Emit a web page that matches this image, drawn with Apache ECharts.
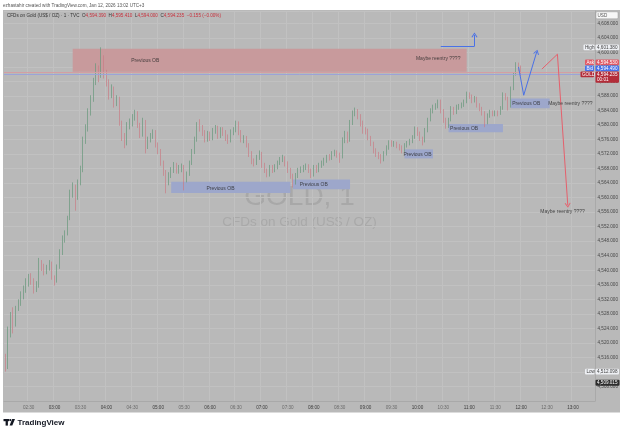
<!DOCTYPE html>
<html>
<head>
<meta charset="utf-8">
<script src="https://cdn.jsdelivr.net/npm/echarts@6/dist/echarts.min.js"></script>
<style>
  html, body { margin: 0; padding: 0; background: #fff; }
  #chart { width: 625px; height: 434px; }
</style>
</head>
<body>
<div id="chart"></div>
<script>
// 3-minute bars from 02:03, each row is [open, close, low, high]
const bars = [
  [4516.5,4513.0,4512.1,4517.0],[4513.0,4523.5,4512.8,4524.5],[4523.5,4527.5,4521.5,4528.5],[4527.5,4525.0,4522.6,4529.8],[4525.0,4529.5,4524.5,4530.2],
  [4529.5,4531.0,4528.8,4532.0],[4531.0,4533.5,4530.2,4534.2],[4533.5,4534.5,4532.0,4535.8],[4534.5,4536.8,4533.8,4537.8],[4536.8,4538.2,4535.5,4539.0],
  [4538.2,4537.0,4536.0,4539.2],[4537.0,4534.6,4533.6,4537.8],[4534.6,4535.8,4534.0,4537.0],[4535.8,4542.0,4535.2,4543.4],[4542.0,4541.0,4539.8,4542.8],
  [4541.0,4539.4,4538.6,4541.8],[4539.4,4540.6,4538.9,4541.5],[4540.6,4542.0,4539.9,4542.8],[4542.0,4538.0,4537.4,4542.4],[4538.0,4537.0,4535.8,4538.6],
  [4537.0,4541.0,4536.6,4541.6],[4541.0,4545.0,4540.4,4545.8],[4545.0,4549.0,4544.2,4549.6],[4549.0,4550.2,4547.6,4551.0],[4550.2,4554.2,4549.6,4555.0],
  [4554.2,4561.0,4553.8,4562.2],[4561.0,4563.0,4560.0,4564.2],[4563.0,4560.0,4556.4,4563.6],[4560.0,4564.2,4559.4,4565.0],[4564.2,4567.6,4563.4,4568.8],
  [4567.6,4576.0,4567.0,4576.8],[4576.0,4579.0,4574.8,4580.2],[4579.0,4583.6,4578.2,4584.6],[4583.6,4587.2,4582.6,4588.2],[4587.2,4592.0,4586.4,4593.0],
  [4592.0,4595.2,4591.0,4597.0],[4595.2,4593.8,4591.8,4596.4],[4593.8,4598.6,4593.0,4601.4],[4598.6,4594.0,4592.8,4599.2],[4594.0,4592.0,4590.6,4595.2],
  [4592.0,4588.0,4587.0,4592.6],[4588.0,4590.0,4587.4,4591.2],[4590.0,4586.0,4584.8,4590.6],[4586.0,4587.4,4585.2,4588.2],[4587.4,4580.6,4579.8,4587.8],
  [4580.6,4577.0,4575.6,4581.2],[4577.0,4575.0,4573.6,4577.8],[4575.0,4580.0,4574.4,4580.8],[4580.0,4581.2,4578.8,4581.8],[4581.2,4582.0,4579.6,4583.0],
  [4582.0,4583.4,4581.2,4584.2],[4583.4,4580.0,4579.2,4583.8],[4580.0,4577.2,4576.4,4580.6],[4577.2,4581.0,4576.8,4582.0],[4581.0,4574.0,4572.2,4581.4],
  [4574.0,4576.0,4573.4,4576.8],[4576.0,4577.0,4575.2,4577.8],[4577.0,4578.2,4576.2,4578.8],[4578.2,4574.6,4573.8,4578.6],[4574.6,4573.0,4572.0,4575.2],
  [4573.0,4569.6,4568.8,4573.4],[4569.6,4567.0,4566.0,4570.2],[4567.0,4564.0,4561.2,4567.6],[4564.0,4566.2,4563.4,4567.0],[4566.2,4567.6,4565.4,4568.4],
  [4567.6,4569.0,4566.8,4569.8],[4569.0,4567.4,4566.6,4569.6],[4567.4,4568.2,4566.6,4569.0],[4568.2,4568.6,4567.0,4569.4],[4568.6,4565.0,4562.0,4569.0],
  [4565.0,4566.6,4564.2,4567.2],[4566.6,4569.6,4566.0,4570.2],[4569.6,4572.6,4569.0,4573.4],[4572.6,4576.0,4572.0,4576.8],[4576.0,4580.0,4575.4,4580.8],
  [4580.0,4579.4,4578.2,4581.6],[4579.4,4578.0,4577.0,4580.0],[4578.0,4576.0,4575.2,4578.6],[4576.0,4577.6,4575.4,4578.4],[4577.6,4576.4,4575.6,4578.2],
  [4576.4,4578.6,4575.8,4579.2],[4578.6,4579.2,4577.6,4580.0],[4579.2,4577.0,4576.2,4579.8],[4577.0,4578.6,4576.4,4579.4],[4578.6,4578.0,4577.0,4579.4],
  [4578.0,4576.6,4575.6,4578.6],[4576.6,4575.8,4574.8,4577.4],[4575.8,4578.0,4575.2,4578.8],[4578.0,4578.6,4577.2,4579.4],[4578.6,4580.6,4578.0,4581.2],
  [4580.6,4578.0,4577.2,4581.0],[4578.0,4576.0,4575.2,4578.6],[4576.0,4576.4,4575.0,4577.2],[4576.4,4574.6,4573.8,4577.0],[4574.6,4572.2,4571.2,4575.0],
  [4572.2,4570.0,4569.2,4572.8],[4570.0,4569.6,4568.6,4570.8],[4569.6,4571.0,4569.0,4571.8],[4571.0,4572.0,4570.4,4573.0],[4572.0,4569.0,4568.2,4572.6],
  [4569.0,4567.6,4566.8,4569.6],[4567.6,4566.0,4565.6,4568.0],[4566.0,4568.4,4565.8,4569.0],[4568.4,4567.6,4566.8,4569.0],[4567.6,4568.4,4567.0,4569.2],
  [4568.4,4569.6,4567.8,4570.2],[4569.6,4570.6,4569.0,4571.2],[4570.6,4571.0,4569.8,4571.8],[4571.0,4569.4,4568.6,4571.4],[4569.4,4567.6,4566.8,4570.0],
  [4567.6,4566.0,4565.2,4568.2],[4566.0,4564.2,4562.8,4566.6],[4564.2,4566.0,4563.6,4566.8],[4566.0,4567.6,4565.4,4568.2],[4567.6,4567.8,4566.8,4568.6],
  [4567.8,4568.4,4567.0,4569.0],[4568.4,4568.8,4567.6,4569.4],[4568.8,4567.6,4566.8,4569.2],[4567.6,4566.2,4565.4,4568.0],[4566.2,4568.4,4565.8,4569.0],
  [4568.4,4567.6,4566.8,4569.0],[4567.6,4569.0,4567.0,4569.6],[4569.0,4569.4,4568.2,4570.2],[4569.4,4570.4,4568.8,4571.0],[4570.4,4571.2,4569.6,4571.8],
  [4571.2,4571.0,4570.2,4572.0],[4571.0,4572.2,4570.4,4572.8],[4572.2,4572.6,4571.4,4573.2],[4572.6,4572.0,4571.0,4573.0],[4572.0,4571.2,4569.6,4572.4],
  [4571.2,4575.8,4570.8,4576.6],[4575.8,4577.8,4575.0,4578.4],[4577.8,4575.8,4575.0,4578.2],[4575.8,4580.6,4575.4,4581.4],[4580.6,4583.2,4580.0,4584.0],
  [4583.2,4584.0,4582.4,4584.8],[4584.0,4582.6,4581.6,4584.4],[4582.6,4580.6,4579.6,4583.0],[4580.6,4578.6,4577.6,4581.2],[4578.6,4578.4,4577.4,4579.4],
  [4578.4,4576.6,4575.8,4579.0],[4576.6,4575.0,4574.2,4577.0],[4575.0,4573.0,4572.2,4575.4],[4573.0,4572.0,4571.2,4573.6],[4572.0,4571.6,4570.6,4572.6],
  [4571.6,4570.6,4569.4,4572.0],[4570.6,4572.2,4570.0,4572.8],[4572.2,4573.8,4571.6,4574.4],[4573.8,4575.2,4573.2,4575.8],[4575.2,4574.8,4574.0,4575.8],
  [4574.8,4575.0,4574.0,4575.6],[4575.0,4574.4,4573.6,4575.4],[4574.4,4573.8,4573.0,4574.8],[4573.8,4573.0,4572.2,4574.4],[4573.0,4574.4,4572.6,4575.0],
  [4574.4,4575.0,4573.8,4575.6],[4575.0,4575.6,4574.4,4576.2],[4575.6,4576.6,4575.0,4577.2],[4576.6,4579.0,4576.2,4579.6],[4579.0,4577.8,4577.0,4579.4],
  [4577.8,4576.4,4575.6,4578.2],[4576.4,4575.6,4574.4,4576.8],[4575.6,4578.6,4575.2,4579.2],[4578.6,4581.4,4578.0,4582.0],[4581.4,4584.0,4581.0,4584.6],
  [4584.0,4585.0,4583.2,4585.6],[4585.0,4585.2,4584.2,4586.0],[4585.2,4586.6,4584.6,4587.0],[4586.6,4584.0,4583.2,4587.0],[4584.0,4581.4,4580.6,4584.4],
  [4581.4,4579.6,4579.0,4582.0],[4579.6,4581.4,4579.2,4582.0],[4581.4,4584.6,4581.0,4585.2],[4584.6,4583.6,4582.8,4585.0],[4583.6,4585.0,4583.0,4585.6],
  [4585.0,4585.2,4584.2,4585.8],[4585.2,4585.6,4584.6,4586.2],[4585.6,4586.4,4585.0,4587.0],[4586.4,4588.6,4586.0,4589.2],[4588.6,4588.0,4587.2,4589.0],
  [4588.0,4586.8,4586.0,4588.4],[4586.8,4587.4,4586.2,4588.0],[4587.4,4585.6,4584.8,4587.8],[4585.6,4584.6,4583.8,4586.0],[4584.6,4583.4,4582.6,4585.0],
  [4583.4,4580.6,4579.4,4583.8],[4580.6,4582.6,4580.2,4583.2],[4582.6,4583.6,4582.0,4584.2],[4583.6,4583.2,4582.4,4584.0],[4583.2,4583.4,4582.4,4584.0],
  [4583.4,4583.2,4582.4,4584.0],[4583.2,4584.6,4582.8,4585.2],[4584.6,4588.4,4584.2,4589.0],[4588.4,4587.6,4586.8,4588.8],[4587.6,4585.0,4584.0,4587.8],
  [4585.0,4590.0,4584.8,4590.6],[4590.0,4594.0,4589.6,4594.6],[4594.0,4596.8,4593.6,4597.3],[4596.8,4595.8,4594.8,4597.2],[4595.8,4594.2,4593.4,4596.4]
];

const firstBarTime = '02:03';
const barMinutes = 3;
const slotCount = 228;
const timeLabels = ['02:30','03:00','03:30','04:00','04:30','05:00','05:30','06:00','06:30','07:00','07:30',
  '08:00','08:30','09:00','09:30','10:00','10:30','11:00','11:30','12:00','12:30','13:00'];

// order block zones: [from, to, top, bottom, kind]
const zones = [
  ['03:21', '10:57', 4601.0, 4594.7, 'supply'],
  ['05:15', '07:33', 4564.4, 4561.3, 'demand'],
  ['07:36', '08:42', 4565.0, 4562.3, 'demand'],
  ['09:45', '10:18', 4573.3, 4570.8, 'demand'],
  ['10:36', '11:39', 4580.3, 4578.0, 'demand'],
  ['11:48', '12:33', 4587.3, 4584.6, 'demand']
];

// text notes: [time, price, text]
const notes = [
  ['04:45', 4597.6, 'Previous OB'],
  ['10:24', 4598.4, 'Maybe reentry ????'],
  ['06:12', 4562.4, 'Previous OB'],
  ['08:00', 4563.6, 'Previous OB'],
  ['10:00', 4571.9, 'Previous OB'],
  ['10:54', 4579.0, 'Previous OB'],
  ['12:06', 4585.9, 'Previous OB'],
  ['12:57', 4585.9, 'Maybe reentry ????'],
  ['12:48', 4556.1, 'Maybe reentry ????']
];

// drawn paths, last point gets an arrow head
const blueBreakout = [['10:27', 4601.7], ['11:06', 4601.7], ['11:06', 4604.8]];
const blueScenario = [['11:57', 4596.0], ['12:03', 4588.2], ['12:18', 4600.1]];
const redScenario = [['12:24', 4595.4], ['12:42', 4599.5], ['12:54', 4557.9]];

// horizontal lines at the current price area
const priceLines = [[4594.45, '#d39ea2'], [4594.0, '#9ba3d8']];

const legendOhlc = [['O', '4,594.390'], ['H', '4,595.410'], ['L', '4,594.000'], ['C', '4,594.235']];
const legendChange = '\u22120.155 (\u22120.00%)';
const highLow = [['High', 4601.380], ['Low', 4512.098]];
const lastPrice = 4594.235;
const quotes = [['Ask', 4594.530, '#e05a66'], ['Bid', 4594.490, '#4571ea']];
const countdown = '00:01';
const prevClose = 4509.015;

const FONT = '"Liberation Sans", Arial, sans-serif';
const UP = '#67987b', DOWN = '#c97c85';

const pad = n => String(n).padStart(2, '0');
const categories = [];
{
  const [h0, m0] = firstBarTime.split(':').map(Number);
  for (let k = 0; k < slotCount; k++) {
    const t = h0 * 60 + m0 + k * barMinutes;
    categories.push(pad(Math.floor(t / 60)) + ':' + pad(t % 60));
  }
}
const fmt = v => v.toFixed(3).replace(/\B(?=(\d{3})+(?!\d))/, ',');

const chevron = 'path://M5,0L10,9L8.6,9.9L5,3.2L1.4,9.9L0,9Z';
function pathLines(points, color) {
  const out = [];
  for (let k = 1; k < points.length; k++) {
    const last = k === points.length - 1;
    out.push([
      { coord: points[k - 1], symbol: 'none', lineStyle: { color, width: 1, type: 'solid' } },
      { coord: points[k], symbol: last ? chevron : 'none', symbolSize: [6, 5] }
    ]);
  }
  return out;
}

const chart = echarts.init(document.getElementById('chart'), null, { renderer: 'canvas' });

const showTime = (i, v) => timeLabels.indexOf(v) >= 0;

chart.setOption({
  animation: false,
  backgroundColor: '#ffffff',
  textStyle: { fontFamily: FONT },
  grid: { left: 4, right: 30, top: 11, height: 390 },
  xAxis: {
    type: 'category',
    data: categories,
    boundaryGap: true,
    axisLine: { show: true, lineStyle: { color: '#a9a9a9', width: 1 } },
    axisTick: { show: false },
    axisLabel: {
      interval: showTime,
      margin: 4,
      fontSize: 4.6,
      formatter: v => (v.endsWith(':00') ? '{h|' + v + '}' : '{m|' + v + '}'),
      rich: { h: { color: '#3c3c3c', fontSize: 4.6 }, m: { color: '#6b6b6b', fontSize: 4.6 } }
    },
    splitLine: { show: true, interval: showTime, lineStyle: { color: '#c1c1c1', width: 1 } }
  },
  yAxis: {
    type: 'value',
    position: 'right',
    min: 4504,
    max: 4611.4,
    interval: 4,
    axisLine: { show: true, lineStyle: { color: '#a9a9a9', width: 1 } },
    axisTick: { show: false },
    axisLabel: {
      color: '#474747', fontSize: 4.6, margin: 2.5,
      showMinLabel: false, showMaxLabel: false,
      formatter: v => fmt(v)
    },
    splitLine: { lineStyle: { color: '#c1c1c1', width: 1 } }
  },
  series: [
    {
      type: 'candlestick',
      data: bars,
      barWidth: 1.3,
      itemStyle: { color: UP, color0: DOWN, borderColor: UP, borderColor0: DOWN, borderWidth: 0.7 },
      markArea: {
        silent: true,
        data: zones.map(z => [
          { xAxis: z[0], yAxis: z[2], itemStyle: { color: z[4] === 'supply' ? '#c89a9c' : '#9da7cb' } },
          { xAxis: z[1], yAxis: z[3] }
        ])
      },
      markLine: {
        silent: true,
        animation: false,
        symbol: ['none', 'none'],
        label: { show: false },
        data: [
          ...priceLines.map(p => ({ yAxis: p[0], lineStyle: { color: p[1], width: 1, type: 'solid' } })),
          ...pathLines(blueBreakout, '#4a71e6'),
          ...pathLines(blueScenario, '#4a71e6'),
          ...pathLines(redScenario, '#e5606c')
        ]
      }
    },
    {
      type: 'scatter',
      silent: true,
      symbolSize: 0,
      data: notes.map(n => [n[0], n[1]]),
      label: {
        show: true,
        position: 'inside',
        fontSize: 5,
        color: '#262626',
        formatter: p => notes[p.dataIndex][2]
      },
      z: 5
    }
  ]
});

// chrome: panel, watermark, legend, price tags
const yOf = p => chart.convertToPixel({ yAxisIndex: 0 }, p);
const tf = (s, w) => (w || '') + ' 4.6px ' + FONT;

function tag(x, y, w, h, fill, text, color, stroke) {
  return [
    { type: 'rect', z: 60, silent: true, shape: { x, y: y - h / 2, width: w, height: h, r: 1 },
      style: { fill, stroke: stroke || null, lineWidth: 0.5 } },
    { type: 'text', z: 61, silent: true, x: x + 1.5, y,
      style: { text, fill: color, font: tf(), align: 'left', verticalAlign: 'middle' } }
  ];
}

const g = [];
g.push({ type: 'rect', z: -10, silent: true, shape: { x: 3, y: 10, width: 617, height: 402.5 }, style: { fill: '#b9b9b9' } });
g.push({ type: 'text', z: -5, silent: true, x: 299.5, y: 197,
  style: { text: 'GOLD, 1', font: '28px ' + FONT, fill: '#a8a8a8', align: 'center', verticalAlign: 'middle' } });
g.push({ type: 'text', z: -5, silent: true, x: 299.5, y: 222.5,
  style: { text: 'CFDs on Gold (US$ / OZ)', font: '13.5px ' + FONT, fill: '#a9a9a9', align: 'center', verticalAlign: 'middle' } });

g.push({ type: 'text', silent: true, x: 3, y: 5.3,
  style: { text: 'ezhastahir created with TradingView.com, Jan 12, 2026 13:02 UTC+3', font: tf(), fill: '#555', verticalAlign: 'middle' } });

let legend = '{n|CFDs on Gold (US$ / OZ) \u00b7 1 \u00b7 TVC}';
legendOhlc.forEach(o => { legend += '  {n|' + o[0] + '}{v|' + o[1] + '}'; });
legend += '  {v|' + legendChange + '}';
g.push({ type: 'text', silent: true, z: 30, x: 7, y: 15.3,
  style: { text: legend, font: tf(), verticalAlign: 'middle',
    rich: { n: { fill: '#333', font: tf() }, v: { fill: '#c8303c', font: tf() } } } });

// price scale tags
g.push(...tag(596, 15.3, 22, 7, '#f7f7f7', 'USD', '#555', '#9a9a9a'));
highLow.forEach(h => {
  const y = yOf(h[1]);
  g.push(...tag(595 - (h[0] === 'High' ? 11.5 : 10), y, h[0] === 'High' ? 11 : 9.5, 5.6, '#eef0f4', h[0], '#444'));
  g.push(...tag(595.5, y, 23.5, 5.6, '#eef0f4', fmt(h[1]), '#444'));
});
const yLast = yOf(lastPrice) + 1;
quotes.forEach((q, k) => {
  const y = yLast - 6 * (quotes.length - k);
  g.push(...tag(585, y, 9, 5.6, q[2], q[0], '#fff'));
  g.push(...tag(595.5, y, 23.5, 5.6, q[2], fmt(q[1]), '#fff'));
});
g.push(...tag(580.5, yLast, 13.5, 5.6, '#b32d39', 'GOLD', '#fff'));
g.push({ type: 'rect', z: 60, silent: true, shape: { x: 595.5, y: yLast - 2.8, width: 23.5, height: 11.2, r: 1 }, style: { fill: '#b32d39' } });
g.push({ type: 'text', z: 61, silent: true, x: 597, y: yLast, style: { text: fmt(lastPrice), fill: '#fff', font: tf(), verticalAlign: 'middle' } });
g.push({ type: 'text', z: 61, silent: true, x: 597, y: yLast + 5.5, style: { text: countdown, fill: '#fff', font: tf(), verticalAlign: 'middle' } });
g.push(...tag(595.5, yOf(prevClose), 24, 6, '#2d2d2d', fmt(prevClose), '#fff'));

// footer logo
g.push({ type: 'rect', silent: true, shape: { x: 3.5, y: 419, width: 5.5, height: 2.2 }, style: { fill: '#131722' } });
g.push({ type: 'rect', silent: true, shape: { x: 5.6, y: 419, width: 2.3, height: 6.6 }, style: { fill: '#131722' } });
g.push({ type: 'circle', silent: true, shape: { cx: 10.3, cy: 420.1, r: 1.1 }, style: { fill: '#131722' } });
g.push({ type: 'polygon', silent: true, shape: { points: [[12.2, 419], [15, 419], [12.3, 425.6], [9.6, 425.6]] }, style: { fill: '#131722' } });
g.push({ type: 'text', silent: true, x: 17.5, y: 422.3,
  style: { text: 'TradingView', font: 'bold 8px ' + FONT, fill: '#131722', verticalAlign: 'middle' } });

chart.setOption({ graphic: g });
</script>
</body>
</html>
